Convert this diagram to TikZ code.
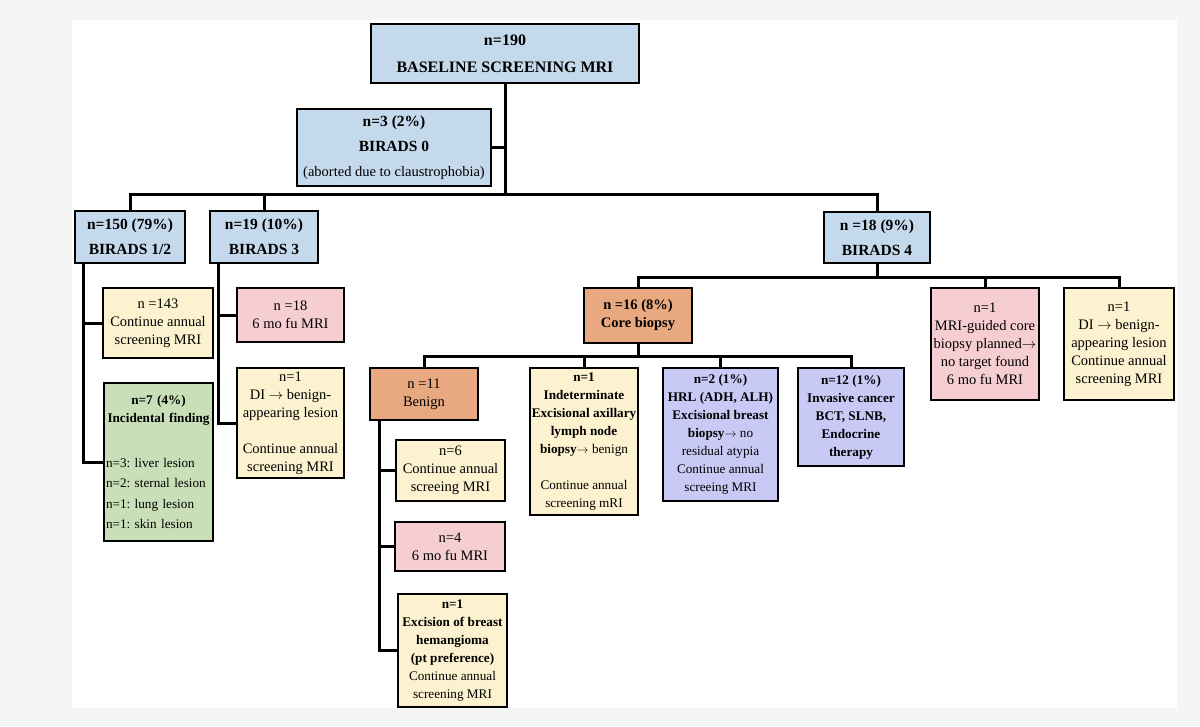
\documentclass[tikz,border=0pt]{standalone}
\usepackage{fontspec}
\setmainfont{Liberation Serif}
\usepackage{tikz}
\usetikzlibrary{positioning}
\usetikzlibrary{calc}
\definecolor{page}{RGB}{245,245,245}
\definecolor{birads}{RGB}{197,217,237}
\definecolor{annual}{RGB}{253,242,208}
\definecolor{followup}{RGB}{246,206,210}
\definecolor{biopsy}{RGB}{232,169,128}
\definecolor{incidental}{RGB}{201,223,184}
\definecolor{highrisk}{RGB}{201,201,246}
\frenchspacing

\tikzset{
  box/.style={draw=black, line width=2.3pt, align=center, inner sep=2pt, font=\fontsize{14.5}{18}\selectfont},
  bluebox/.style={box, fill=birads, font=\fontsize{15.5}{25}\selectfont\bfseries},
  small/.style={font=\fontsize{13.2}{18}\selectfont},
  link/.style={line width=3pt}
}

\begin{document}
\begin{tikzpicture}[x=1pt,y=-1pt]
            \fill[page] (0,0) rectangle (1200,726);
            \fill[white] (72,20) rectangle (1177,708);
            \useasboundingbox (0,0) rectangle (1200,726);

            % screening and BIRADS
            \node[bluebox, font=\fontsize{16}{27}\selectfont\bfseries, minimum width=268, minimum height=59] (top) at (505,53.5) {n=190\\BASELINE SCREENING MRI};
            \node[bluebox, minimum width=194, minimum height=77] (b0) at (394,147.5) {n=3 (2\%)\\BIRADS 0\\{\mdseries\fontsize{14.5}{25}\selectfont (aborted due to claustrophobia)}};
            \node[bluebox, minimum width=110, minimum height=52] (b12) at (130,237) {n=150 (79\%)\\BIRADS 1/2};
            \node[bluebox, minimum width=108, minimum height=52] (b3) at (264,237) {n=19 (10\%)\\BIRADS 3};
            \node[bluebox, minimum width=106, minimum height=51] (b4) at (877,237.5) {n =18 (9\%)\\BIRADS 4};

            % BIRADS 1/2 and 3
            \node[box, fill=annual, minimum width=110, minimum height=70] (c143) at (158,323) {n =143\\Continue annual\\screening MRI};
            \node[box, small, fill=incidental, minimum width=109, minimum height=158, text width=105] (incid) at (158.5,462) {\textbf{n=7 (4\%)}\\\textbf{Incidental finding}\\[27pt]\makebox[105pt][l]{n=3: liver lesion}\\[2.5pt]\makebox[105pt][l]{n=2: sternal lesion}\\[2.5pt]\makebox[105pt][l]{n=1: lung lesion}\\[2.5pt]\makebox[105pt][l]{n=1: skin lesion}};
            \node[box, fill=followup, minimum width=107, minimum height=54] (fu18) at (290.5,315) {n =18\\6 mo fu MRI};
            \node[box, fill=annual, minimum width=107, minimum height=110] (di3) at (290.5,423) {n=1\\DI $\rightarrow$ benign-\\appearing lesion\\[18pt]Continue annual\\screening MRI};

            % BIRADS 4
            \node[box, fill=biopsy, font=\fontsize{14.5}{18}\selectfont\bfseries, minimum width=108, minimum height=55] (core) at (638,315.5) {n =16 (8\%)\\Core biopsy};
            \node[box, fill=followup, minimum width=108, minimum height=112] (fuR) at (985,344) {n=1\\MRI-guided core\\biopsy planned$\rightarrow$\\no target found\\6 mo fu MRI};
            \node[box, fill=annual, minimum width=110, minimum height=112] (diR) at (1119,344) {n=1\\DI $\rightarrow$ benign-\\appearing lesion\\Continue annual\\screening MRI};

            % core biopsy
            \node[box, fill=biopsy, minimum width=108, minimum height=52] (benign) at (424,394) {n =11\\Benign};
            \node[box, small, fill=annual, minimum width=108, minimum height=147] (indet) at (584,441.5) {\textbf{n=1}\\\textbf{Indeterminate}\\\textbf{Excisional axillary}\\\textbf{lymph node}\\\textbf{biopsy}$\rightarrow$ benign\\[18pt]Continue annual\\screening mRI};
            \node[box, small, fill=highrisk, minimum width=115, minimum height=133] (hrl) at (720.5,434.5) {\textbf{n=2 (1\%)}\\\textbf{HRL (ADH, ALH)}\\\textbf{Excisional breast}\\\textbf{biopsy}$\rightarrow$ no\\residual atypia\\Continue annual\\screeing MRI};
            \node[box, small, fill=highrisk, font=\fontsize{13.2}{18}\selectfont\bfseries, minimum width=106, minimum height=98] (inv) at (851,417) {n=12 (1\%)\\Invasive cancer\\BCT, SLNB,\\Endocrine\\therapy};

            % benign
            \node[box, fill=annual, minimum width=109, minimum height=61] (n6) at (450.5,470.5) {n=6\\Continue annual\\screeing MRI};
            \node[box, fill=followup, minimum width=110, minimum height=49] (n4) at (450,546.5) {n=4\\6 mo fu MRI};
            \node[box, small, fill=annual, minimum width=109, minimum height=113] (exc) at (452.5,650.5) {\textbf{n=1}\\\textbf{Excision of breast}\\\textbf{hemangioma}\\\textbf{(pt preference)}\\Continue annual\\screening MRI};

            % connectors
            \coordinate (bus1) at (505,194);
            \draw[link] (top.south) -- (bus1);
            \draw[link] (b0.east) -- (b0.east -| top.south);
            \draw[link] (b12.north) |- (bus1) -| (b4.north);
            \draw[link] (b3.north) -- (b3.north |- bus1);

            \coordinate (l12) at ($(b12.south west)+(10,0)$);
            \draw[link] (l12) |- (incid.west);
            \draw[link] (l12 |- c143.west) -- (c143.west);

            \coordinate (l3) at ($(b3.south west)+(10,0)$);
            \draw[link] (l3) |- (di3.west);
            \draw[link] (l3 |- fu18.west) -- (fu18.west);

            \coordinate (bus2) at (877,277);
            \draw[link] (b4.south) -- (bus2);
            \draw[link] (core.north) |- (bus2) -| (diR.north);
            \draw[link] (fuR.north) -- (fuR.north |- bus2);

            \coordinate (bus3) at (638,356);
            \draw[link] (core.south) -- (bus3);
            \draw[link] (benign.north) |- (bus3) -| (inv.north);
            \draw[link] (indet.north) -- (indet.north |- bus3);
            \draw[link] (hrl.north) -- (hrl.north |- bus3);

            \coordinate (lb) at ($(benign.south west)+(11,0)$);
            \draw[link] (lb) |- (exc.west);
            \draw[link] (lb |- n6.west) -- (n6.west);
            \draw[link] (lb |- n4.west) -- (n4.west);
\end{tikzpicture}
\end{document}
